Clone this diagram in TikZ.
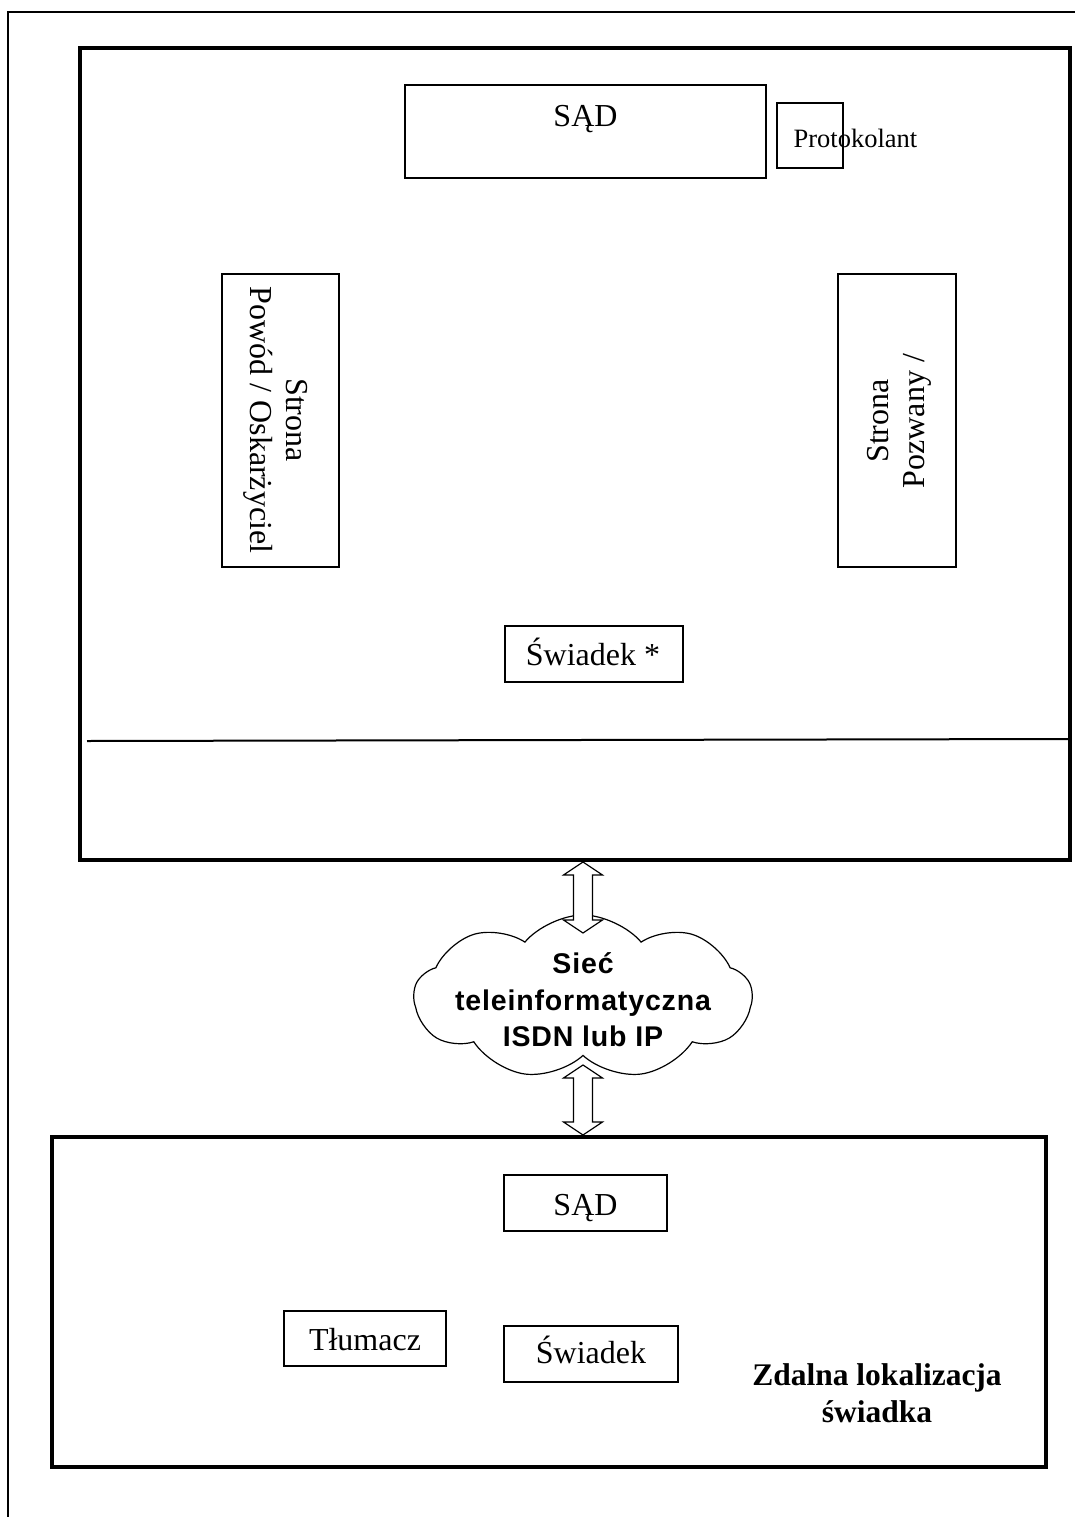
\documentclass[tikz,border=0pt]{standalone}
\usepackage{fontspec}
\setmainfont{Liberation Serif}
\newfontfamily\arialfont[LetterSpace=3]{Liberation Sans}
\usetikzlibrary{shapes.symbols,calc}
\tikzset{
  smallbox/.style={draw=black, line width=1.5pt, rectangle, inner sep=0pt},
  bigbox/.style={draw=black, line width=4pt, rectangle, inner sep=0pt},
  txt/.style={font=\fontsize{32}{36}\selectfont, inner sep=0pt, align=center},
  smalltxt/.style={font=\fontsize{26.5}{30}\selectfont, inner sep=0pt},
  boldtxt/.style={font=\bfseries\fontsize{31.5}{37}\selectfont, inner sep=0pt, align=center},
  cloudtxt/.style={font=\arialfont\bfseries\fontsize{28.5}{36.5}\selectfont, inner sep=0pt, align=center},
  netcloud/.style={cloud, draw=black, line width=1.2pt, cloud puffs=9, cloud puff arc=100,
    cloud ignores aspect, minimum width=338, minimum height=164, inner sep=0pt, fill=white},
  dblarrow/.style={draw=black, fill=white, line width=1.2pt, line join=miter},
  frameline/.style={draw=black, line width=2pt}
}
\newcommand{\mydblarrow}[2]{%
  \draw[dblarrow] (#1) -- ($(#1)+(19.5,13)$) -- ($(#1)+(9.5,13)$) -- ($(#2)+(9.5,-13)$)
    -- ($(#2)+(19.5,-13)$) -- (#2) -- ($(#2)+(-19.5,-13)$) -- ($(#2)+(-9.5,-13)$)
    -- ($(#1)+(-9.5,13)$) -- ($(#1)+(-19.5,13)$) -- cycle;}
\begin{document}
\begin{tikzpicture}[x=1pt,y=-1pt]
\useasboundingbox (0,0) rectangle (1075,1517);
% outer frame (cut off at right and bottom)
\draw[frameline] (8,1530) -- (8,12) -- (1090,12);

% top courtroom box
\node[bigbox, minimum width=990, minimum height=812] (topbox) at (575,454) {};
\draw[line width=2pt] (87,741) -- (1068,739);

\node[smallbox, minimum width=361, minimum height=93] (sad1) at (585.5,131.5) {};
\node[txt, anchor=base] (sad1t) at (585.5,127) {SĄD};

\node[smallbox, minimum width=66, minimum height=65] (prot) at (810,135.5) {};
\node[smalltxt, anchor=base] (prott) at (855.5,148) {Protokolant};

\node[smallbox, minimum width=117, minimum height=293] (left) at (280.5,420.5) {};
\node[txt, rotate=-90] (leftt) at (275.5,420) {Strona\\Powód / Oskarżyciel};

\node[smallbox, minimum width=118, minimum height=293] (right) at (897,420.5) {};
\node[txt, rotate=90] (rightt) at (899.5,421) {Strona\\Pozwany /};

\node[smallbox, minimum width=178, minimum height=56] (sw1) at (594,654) {};
\node[txt, anchor=base] (sw1t) at (593,665) {Świadek *};

% bottom remote box
\node[bigbox, minimum width=994, minimum height=330] (lowbox) at (549,1302) {};

\node[smallbox, minimum width=163, minimum height=56] (sad2) at (585.5,1203) {};
\node[txt, anchor=base] (sad2t) at (585.5,1215) {SĄD};

\node[smallbox, minimum width=162, minimum height=55] (tlum) at (365,1338.5) {};
\node[txt, anchor=base] (tlumt) at (365,1350) {Tłumacz};

\node[smallbox, minimum width=174, minimum height=56] (sw2) at (591,1354) {};
\node[txt, anchor=base] (sw2t) at (591,1363) {Świadek};

\node[boldtxt] (remote) at (877,1393) {Zdalna lokalizacja\\świadka};

% network cloud
\node[netcloud] (net) at (583,997) {};
\node[cloudtxt] (nett) at (583,1000) {Sieć\\teleinformatyczna\\ISDN lub IP};

% double arrows
\coordinate (a1t) at (topbox.south -| net.center);
\coordinate (a1b) at (583,933);
\coordinate (a2t) at (583,1065);
\coordinate (a2b) at (lowbox.north -| net.center);
\mydblarrow{a1t}{a1b}
\mydblarrow{a2t}{a2b}
\end{tikzpicture}
\end{document}
